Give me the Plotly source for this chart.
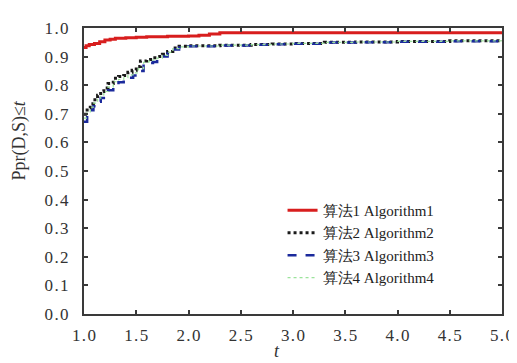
import plotly.graph_objects as go

# Algorithm 1 (red)
t1 = [1.0, 1.02, 1.05, 1.1, 1.15, 1.2, 1.25, 1.3, 1.4, 1.5, 1.6, 1.8, 2.0, 2.1, 2.2, 2.3, 2.5, 3.0, 4.0, 5.0]
v1 = [0.932, 0.938, 0.942, 0.946, 0.952, 0.958, 0.961, 0.964, 0.966, 0.968, 0.969, 0.971, 0.972, 0.975, 0.979, 0.983, 0.983, 0.983, 0.983, 0.983]

# Algorithm 2 (black dotted)
t2 = [1.0, 1.03, 1.06, 1.09, 1.13, 1.16, 1.19, 1.23, 1.28, 1.33, 1.38, 1.42, 1.46, 1.5, 1.54, 1.6, 1.66, 1.7, 1.75, 1.8, 1.85, 1.91, 2.0, 2.3, 2.6, 2.8, 3.0, 3.3, 3.6, 4.0, 4.5, 5.0]
v2 = [0.698, 0.72, 0.735, 0.749, 0.765, 0.778, 0.79, 0.806, 0.824, 0.83, 0.834, 0.845, 0.852, 0.865, 0.885, 0.89, 0.896, 0.9, 0.908, 0.918, 0.93, 0.936, 0.938, 0.94, 0.942, 0.944, 0.946, 0.95, 0.951, 0.953, 0.955, 0.958]

# Algorithm 3 (blue dashed)
t3 = [1.0, 1.03, 1.06, 1.09, 1.13, 1.16, 1.19, 1.23, 1.28, 1.33, 1.38, 1.42, 1.47, 1.52, 1.57, 1.62, 1.66, 1.7, 1.75, 1.8, 1.85, 1.91, 2.0, 2.3, 2.6, 2.8, 3.0, 3.3, 3.6, 4.0, 4.5, 5.0]
v3 = [0.672, 0.695, 0.712, 0.726, 0.742, 0.755, 0.766, 0.782, 0.8, 0.81, 0.817, 0.826, 0.834, 0.85, 0.875, 0.878, 0.881, 0.89, 0.9, 0.912, 0.925, 0.932, 0.936, 0.939, 0.941, 0.943, 0.945, 0.949, 0.95, 0.952, 0.954, 0.957]

# Algorithm 4 (light green)
t4 = [1.0, 1.03, 1.06, 1.09, 1.13, 1.16, 1.19, 1.23, 1.28, 1.33, 1.38, 1.42, 1.47, 1.52, 1.57, 1.62, 1.66, 1.7, 1.75, 1.8, 1.85, 1.91, 2.0, 2.3, 2.6, 2.8, 3.0, 3.3, 3.6, 4.0, 4.5, 5.0]
v4 = [0.685, 0.707, 0.723, 0.737, 0.753, 0.766, 0.778, 0.794, 0.812, 0.82, 0.826, 0.836, 0.843, 0.858, 0.88, 0.884, 0.889, 0.895, 0.904, 0.915, 0.928, 0.934, 0.937, 0.94, 0.942, 0.944, 0.946, 0.95, 0.951, 0.953, 0.955, 0.958]

names = ["算法1 Algorithm1", "算法2 Algorithm2", "算法3 Algorithm3", "算法4 Algorithm4"]

x_ticks = [1.0, 1.5, 2.0, 2.5, 3.0, 3.5, 4.0, 4.5, 5.0]
y_ticks = [0.0, 0.1, 0.2, 0.3, 0.4, 0.5, 0.6, 0.7, 0.8, 0.9, 1.0]

SERIF = "Liberation Serif, Times New Roman, serif"
HS = "\u200a"


def spaced(v):
    return HS.join(f"{v:.1f}")


fig = go.Figure()
fig.add_trace(go.Scatter(x=t1, y=v1, mode="lines", name=names[0], line_shape="hv",
                         line=dict(color="#d81e1e", width=3)))
fig.add_trace(go.Scatter(x=t2, y=v2, mode="lines", name=names[1], line_shape="hv",
                         line=dict(color="#1a1a1a", width=3, dash="dot")))
fig.add_trace(go.Scatter(x=t3, y=v3, mode="lines", name=names[2], line_shape="hv",
                         line=dict(color="#1b2a9c", width=2.5, dash="dash")))
fig.add_trace(go.Scatter(x=t4, y=v4, mode="lines", name=names[3], line_shape="hv",
                         line=dict(color="#9be39b", width=1.2, dash="dot")))

axis_common = dict(showline=True, mirror="ticks", linecolor="#3a3a3a", linewidth=2,
                   ticks="inside", ticklen=4, tickwidth=1.5, tickcolor="#3a3a3a",
                   showgrid=False, zeroline=False,
                   tickfont=dict(family=SERIF, size=17, color="#333333"))

fig.update_layout(
    width=517, height=363,
    margin=dict(l=76, r=14, t=11, b=57),
    plot_bgcolor="white", paper_bgcolor="white",
    xaxis=dict(range=[1, 5], tickvals=x_ticks, ticktext=[spaced(v) for v in x_ticks],
               ticklabelstandoff=5, **axis_common),
    yaxis=dict(range=[0, 1], tickvals=y_ticks, ticktext=[spaced(v) for v in y_ticks],
               ticklabelstandoff=10, **axis_common),
    legend=dict(x=0.475, y=0.42, xanchor="left", yanchor="top",
                bgcolor="rgba(0,0,0,0)", tracegroupgap=0,
                font=dict(family=SERIF, size=15, color="#222222")),
    showlegend=True,
    annotations=[
        dict(text="Ppr(D,S)≤<i>t</i>", textangle=-90, xref="paper", yref="paper",
             x=-0.155, y=0.607, xanchor="center", yanchor="middle", showarrow=False,
             font=dict(family=SERIF, size=18, color="#333333")),
        dict(text="<i>t</i>", xref="paper", yref="paper",
             x=0.462, y=-0.13, xanchor="center", yanchor="middle", showarrow=False,
             font=dict(family=SERIF, size=18, color="#333333")),
    ],
)

fig.write_html("out.html")
